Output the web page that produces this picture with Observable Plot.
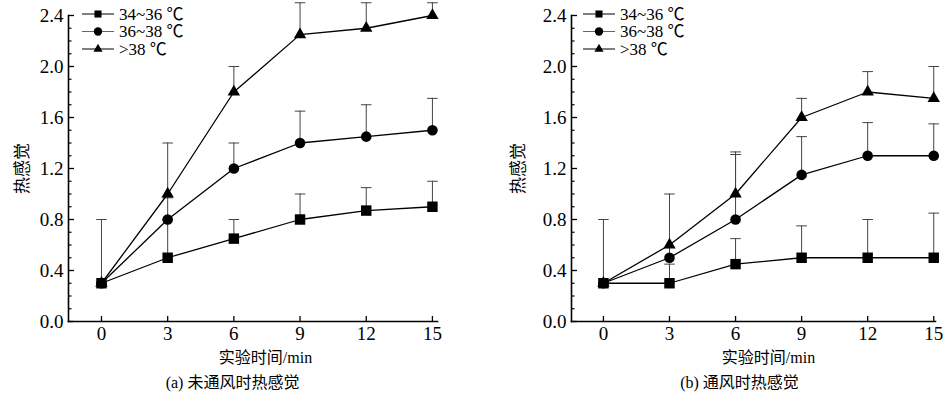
<!DOCTYPE html>
<html><head><meta charset="utf-8">
<script src="https://cdn.jsdelivr.net/npm/d3@7"></script>
<script src="https://cdn.jsdelivr.net/npm/@observablehq/plot@0.6"></script>
<style>
body{margin:0;background:#fff}
#wrap{display:flex;width:950px;height:394px}
svg, svg text{font-family:"Liberation Serif","Noto Sans CJK SC",serif;color:#000}
</style></head><body><div id="wrap"></div>
<script>
// ---- data ----
const times = [0, 3, 6, 9, 12, 15];
const seriesNames = ["34~36 \u2103", "36~38 \u2103", ">38 \u2103"];
const yTicks = [0, 0.4, 0.8, 1.2, 1.6, 2.0, 2.4];
const yMinorTicks = [0.1, 0.2, 0.3, 0.5, 0.6, 0.7, 0.9, 1.0, 1.1, 1.3, 1.4, 1.5, 1.7, 1.8, 1.9, 2.1, 2.2, 2.3];
const xLabel = "实验时间/min";
const yLabel = "热感觉";
const captions = ["(a) 未通风时热感觉", "(b) 通风时热感觉"];

// (a) no ventilation
const aLow  = [0.3, 0.5, 0.65, 0.8, 0.87, 0.9];
const aMid  = [0.3, 0.8, 1.2, 1.4, 1.45, 1.5];
const aHigh = [0.3, 1.0, 1.8, 2.25, 2.3, 2.4];
const aLowErr  = [0.8, 0.8, 0.8, 1.0, 1.05, 1.1];
const aMidErr  = [null, 0.97, 1.4, 1.65, 1.7, 1.75];
const aHighErr = [null, 1.4, 2.0, 2.5, 2.5, 2.5];

// (b) ventilation
const bLow  = [0.3, 0.3, 0.45, 0.5, 0.5, 0.5];
const bMid  = [0.3, 0.5, 0.8, 1.15, 1.3, 1.3];
const bHigh = [0.3, 0.6, 1.0, 1.6, 1.8, 1.75];
const bLowErr  = [0.8, 0.45, 0.65, 0.75, 0.8, 0.85];
const bMidErr  = [null, 0.58, 1.31, 1.45, 1.56, 1.55];
const bHighErr = [null, 1.0, 1.33, 1.75, 1.96, 2.0];

function rowsFor(vals, errs) {
  const out = [];
  vals.forEach((arr, si) => arr.forEach((v, i) => out.push({series: seriesNames[si], s: si, t: times[i], v, hi: errs[si][i]})));
  return out;
}
const dataA = rowsFor([aLow, aMid, aHigh], [aLowErr, aMidErr, aHighErr]);
const dataB = rowsFor([bLow, bMid, bHigh], [bLowErr, bMidErr, bHighErr]);

const capSymbol = {draw(ctx) { ctx.moveTo(-5.3, 0); ctx.lineTo(5.3, 0); }};
const symTypes = ["square", "circle", "triangle"];
const symR = [5.9, 5.3, 4.6];

function panel(rows, o) {
  const errRows = rows.filter(d => d.hi != null);
  const svg = Plot.plot({
    width: 475, height: 394,
    marginTop: 15, marginBottom: 73, marginLeft: o.ml, marginRight: o.mr,
    style: {background: "#fff", overflow: "visible"},
    x: {domain: o.xd},
    y: {domain: [0, 2.4]},
    marks: [
      Plot.ruleX(errRows, {x: "t", y1: "v", y2: "hi", stroke: "#444", strokeWidth: 1}),
      Plot.dot(errRows, {x: "t", y: "hi", symbol: capSymbol, r: 5, fill: "none", stroke: "#444", strokeWidth: 1}),
      Plot.line(rows, {x: "t", y: "v", z: "series", stroke: "#000", strokeWidth: 1.3}),
      ...symTypes.map((sym, i) => Plot.dot(rows.filter(d => d.s === i), {x: "t", y: "v", symbol: sym, r: symR[i], fill: "#000", stroke: "none"})),
      Plot.frame({anchor: "left", strokeWidth: 1.6}),
      Plot.frame({anchor: "bottom", strokeWidth: 1.6}),
      Plot.axisX({ticks: times, tickSize: -5, tickPadding: 9.5, tickFormat: d => String(d), fontSize: 19, label: null, strokeWidth: 1.3}),
      Plot.axisY({ticks: yTicks, tickSize: -6, tickPadding: 11, tickFormat: d => d.toFixed(1), fontSize: 19, label: null, strokeWidth: 1.3}),
      Plot.axisY({ticks: yMinorTicks, tickSize: -3.5, tickFormat: () => "", label: null, strokeWidth: 1.2}),
      Plot.text([xLabel], {frameAnchor: "bottom", textAnchor: "middle", lineAnchor: "middle", dy: 36, dx: o.xlDx, fontSize: 16}),
      Plot.text([o.caption], {frameAnchor: "bottom", textAnchor: "middle", lineAnchor: "middle", dy: 61, dx: o.capDx, fontSize: 16}),
      Plot.text([yLabel], {frameAnchor: "left", textAnchor: "middle", lineAnchor: "middle", rotate: -90, dx: o.ylDx, fontSize: 17})
    ]
  });
  // legend
  const lg = d3.select(svg).append("g").attr("class", "legend").attr("text-anchor", "start");
  const lsize = [4.0, 4.2, 3.4];
  seriesNames.forEach((name, i) => {
    const y = 14 + i * 17.5;
    lg.append("line").attr("x1", o.lx).attr("x2", o.lx + 32).attr("y1", y).attr("y2", y).attr("stroke", i === 1 ? "#666" : "#000").attr("stroke-width", 1);
    const type = [d3.symbolSquare, d3.symbolCircle, d3.symbolTriangle][i];
    lg.append("path").attr("d", d3.symbol(type, Math.PI * lsize[i] * lsize[i])()).attr("transform", `translate(${o.lx + 16},${y})`).attr("fill", "#000");
    lg.append("text").attr("x", o.lx + 37).attr("y", y).attr("dy", "0.35em").attr("font-size", 17).attr("text-anchor", "start").attr("fill", "#000").text(name);
  });
  return svg;
}

const wrap = document.getElementById("wrap");
wrap.appendChild(panel(dataA, {ml: 68, mr: 38, xd: [-1.495, 15.23], xlDx: 12.5, capDx: -20.5, ylDx: -46, lx: 82, caption: captions[0]}));
wrap.appendChild(panel(dataB, {ml: 96, mr: 15, xd: [-1.45, 15.08], xlDx: 15, capDx: -14, ylDx: -53, lx: 108, caption: captions[1]}));
</script></body></html>
